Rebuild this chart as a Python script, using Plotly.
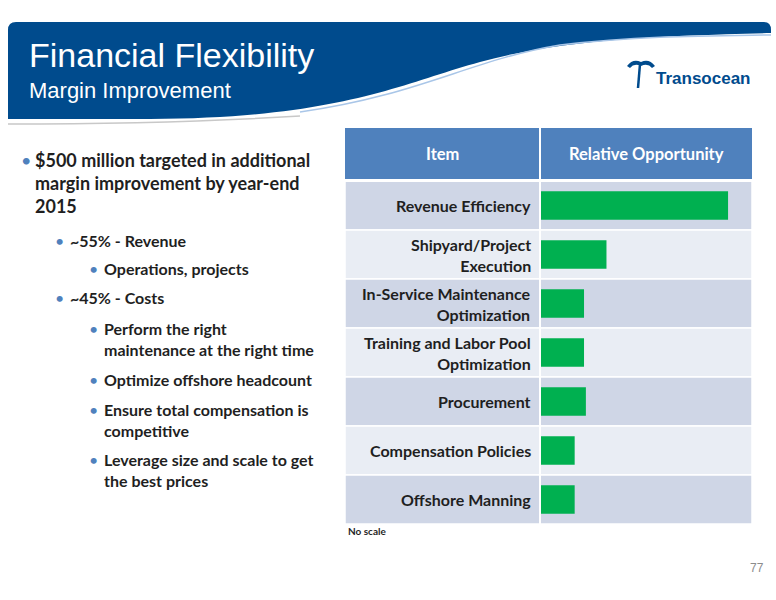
import plotly.graph_objects as go

W, H = 776, 600
items = ["Revenue Efficiency", "Shipyard/Project<br>Execution", "In-Service Maintenance<br>Optimization",
         "Training and Labor Pool<br>Optimization", "Procurement", "Compensation Policies", "Offshore Manning"]
opportunity = [100, 35, 23, 23, 24, 18, 18]

def px(x): return x / W
def py(y): return 1 - y / H

def P(cmds):
    out = []
    for c in cmds:
        if isinstance(c, str):
            out.append(c)
        else:
            out.append(f"{px(c[0]):.5f},{py(c[1]):.5f}")
    return " ".join(out)

fig = go.Figure()
fig.add_trace(go.Bar(x=opportunity, y=list(range(len(items))), orientation="h",
                     marker=dict(color="#00b050", line=dict(width=0)), width=0.58, hoverinfo="skip"))

shapes = []
def S(**k):
    k.setdefault("xref", "paper"); k.setdefault("yref", "paper")
    shapes.append(k)
def R(x0, x1, y0, y1, **k):
    S(type="rect", x0=px(x0), x1=px(x1), y0=py(y0), y1=py(y1), **k)
def L(x0, y0, x1, y1, **k):
    S(type="line", x0=px(x0), x1=px(x1), y0=py(y0), y1=py(y1), **k)

S(type="path", path=P(["M", (8, 119), "L", (8, 30), "Q", (8, 22), (16, 22), "L", (764, 22), "Q", (771, 22), (771, 30),
                       "L", (771, 33), "C", (650, 36), (560, 40), (480, 62), "C", (400, 84), (340, 118), (150, 119), "Z"]),
  fillcolor="#004b8d", line=dict(width=0), layer="below")
S(type="path", path=P(["M", (300, 112), "C", (420, 95), (470, 60), (560, 45), "C", (640, 36), (700, 36), (771, 35)]),
  line=dict(color="#a9c6e8", width=1.5))
S(type="path", path=P(["M", (8, 124), "C", (120, 124), (200, 122), (300, 116)]), line=dict(color="#c8c8c8", width=1.5))
R(345, 752, 128, 180, fillcolor="#4f81bd", line=dict(width=0), layer="below")
top, rh = 181, (524 - 181) / 7
for i in range(7):
    R(345, 752, top + i * rh, top + (i + 1) * rh, fillcolor="#cfd6e6" if i % 2 == 0 else "#e9edf4",
      line=dict(color="white", width=1.5), layer="below")
L(540, 128, 540, 524, line=dict(color="white", width=2), layer="below")
L(345, 180.5, 752, 180.5, line=dict(color="white", width=3))
# logo symbol
S(type="path", path=P(["M", (627, 66), "Q", (633, 58), (641, 62), "L", (641, 66), "Q", (634, 63), (630, 68), "Z"]),
  fillcolor="#004b8d", line=dict(width=0))
S(type="path", path=P(["M", (641, 62), "Q", (649, 58), (655, 66), "L", (652, 68), "Q", (648, 63), (641, 66), "Z"]),
  fillcolor="#004b8d", line=dict(width=0))
L(640, 64, 638, 88, line=dict(color="#004b8d", width=2.5))

ann = []
def t(x, y, s, size, color="#1f1f1f", bold=True, xa="left", fam="Lato"):
    ann.append(dict(x=px(x), y=py(y), xref="paper", yref="paper", text=f"<b>{s}</b>" if bold else s, showarrow=False,
                    xanchor=xa, yanchor="middle", font=dict(size=size, color=color, family=fam), align=xa))

narrow = "Liberation Sans Narrow, Liberation Sans"
t(27, 55, "Financial Flexibility", 34, "white", False, fam=narrow)
t(27, 90, "Margin Improvement", 22, "white", False, fam=narrow)
t(654, 79, "Transocean", 17, "#004b8d", True, fam=narrow)
t(442, 154, "Item", 16.5, "white", xa="center")
t(646, 154, "Relative Opportunity", 16.5, "white", xa="center")
for i, s in enumerate(items):
    t(533, top + (i + 0.5) * rh, s, 16, xa="right")

b = "#4f81bd"
lines = [(22, 33, 160, True, "$500 million targeted in additional", 18),
         (22, 33, 183, False, "margin improvement by year-end", 18),
         (22, 33, 206, False, "2015", 18),
         (56, 68, 240, True, "~55% - Revenue", 16),
         (90, 102, 268, True, "Operations, projects", 16),
         (56, 68, 298, True, "~45% - Costs", 16),
         (90, 102, 328, True, "Perform the right", 16),
         (90, 102, 349, False, "maintenance at the right time", 16),
         (90, 102, 379, True, "Optimize offshore headcount", 16),
         (90, 102, 409, True, "Ensure total compensation is", 16),
         (90, 102, 430, False, "competitive", 16),
         (90, 102, 459, True, "Leverage size and scale to get", 16),
         (90, 102, 480, False, "the best prices", 16)]
for bx, tx, y, bul, s, sz in lines:
    if bul:
        t(bx - 3, y, "•", sz, b, False)
    t(tx, y, s, sz)
t(346, 531, "No scale", 10)
t(748, 568, "77", 12, "#8c8c8c", False, fam="Liberation Sans")

fig.update_layout(
    width=W, height=H, margin=dict(l=0, r=0, t=0, b=0), paper_bgcolor="white", plot_bgcolor="rgba(0,0,0,0)",
    showlegend=False, shapes=shapes, annotations=ann,
    xaxis=dict(domain=[px(541), px(752)], range=[0, 112.8], visible=False, fixedrange=True),
    yaxis=dict(domain=[py(524), py(181)], range=[6.5, -0.5], visible=False, fixedrange=True),
)
fig.write_html("out.html", config=dict(displayModeBar=False),
               post_script="document.body.style.margin='0';document.body.style.overflow='hidden';")
